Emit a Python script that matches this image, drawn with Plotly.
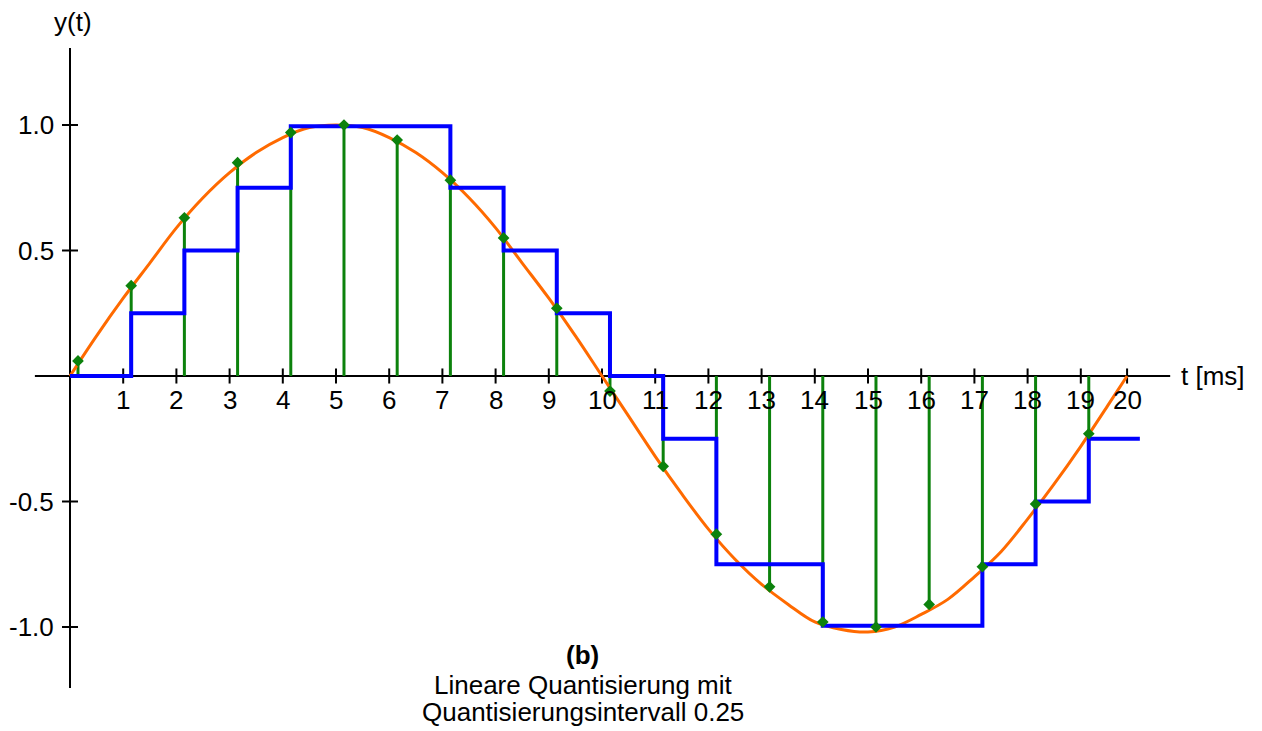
import plotly.graph_objects as go

# ---- data ----
# continuous signal (orange)
sig_t = [0, 0.5, 1, 1.5, 2, 2.5, 3, 3.5, 4, 4.5, 5, 5.5, 6, 6.5, 7, 7.5, 8, 8.5, 9, 9.5, 10,
         10.5, 11, 11.5, 12, 12.5, 13, 13.5, 14, 14.5, 15, 15.5, 16, 16.5, 17, 17.5, 18, 18.5, 19, 19.5, 19.87]
sig_y = [0.0, 0.16, 0.31, 0.45, 0.59, 0.71, 0.81, 0.89, 0.95, 0.99, 1.0, 0.99, 0.95, 0.89, 0.81, 0.71, 0.59, 0.45, 0.31, 0.16, 0.0,
         -0.16, -0.32, -0.47, -0.61, -0.73, -0.83, -0.91, -0.98, -1.01, -1.02, -1.0, -0.95, -0.89, -0.80, -0.70, -0.57, -0.43, -0.28, -0.12, 0.0]

# sample instants and sampled values (green stems / diamonds)
sample_t = [0.15, 1.15, 2.15, 3.15, 4.15, 5.15, 6.15, 7.15, 8.15, 9.15,
            10.15, 11.15, 12.15, 13.15, 14.15, 15.15, 16.15, 17.15, 18.15, 19.15]
sample_y = [0.06, 0.36, 0.63, 0.85, 0.97, 1.0, 0.94, 0.78, 0.55, 0.27,
            -0.06, -0.36, -0.63, -0.84, -0.98, -1.0, -0.91, -0.76, -0.51, -0.23]

# quantized staircase (blue), step 0.25
quant_t = [0, 1.15, 2.15, 3.15, 4.15, 5.15, 6.15, 7.15, 8.15, 9.15,
           10.15, 11.15, 12.15, 13.15, 14.15, 15.15, 16.15, 17.15, 18.15, 19.15, 20.11]
quant_y = [0, 0.25, 0.5, 0.75, 0.995, 0.995, 0.995, 0.75, 0.5, 0.25,
           0, -0.25, -0.75, -0.75, -0.995, -0.995, -0.995, -0.75, -0.5, -0.25, -0.25]

# axis ticks
x_tick_vals = [1, 2, 3, 4, 5, 6, 7, 8, 9, 10, 11, 12, 13, 14, 15, 16, 17, 18, 19, 19.87]
x_tick_text = [str(i) for i in range(1, 21)]
y_tick_vals = [1.0, 0.5, -0.5, -1.0]
y_tick_text = ["1.0", "0.5", "-0.5", "-1.0"]

FONT = "Liberation Sans, Arial, Helvetica, sans-serif"
FS = 26
GREEN = "#0c820c"
ORANGE = "#ff6a00"
BLUE = "#0000ff"

fig = go.Figure()

# stems
stem_x, stem_y = [], []
for t, v in zip(sample_t, sample_y):
    stem_x += [t, t, None]
    stem_y += [0, v, None]
fig.add_trace(go.Scatter(x=stem_x, y=stem_y, mode="lines",
                         line=dict(color=GREEN, width=3), hoverinfo="skip"))
# continuous signal
fig.add_trace(go.Scatter(x=sig_t, y=sig_y, mode="lines",
                         line=dict(color=ORANGE, width=3, shape="spline")))
# quantized signal
fig.add_trace(go.Scatter(x=quant_t, y=quant_y, mode="lines",
                         line=dict(color=BLUE, width=4, shape="hv")))
# sample markers
fig.add_trace(go.Scatter(x=sample_t, y=sample_y, mode="markers",
                         marker=dict(symbol="diamond", size=9, color=GREEN)))

shapes = []
# axes lines
shapes.append(dict(type="line", x0=-0.66, x1=20.68, y0=0, y1=0,
                   line=dict(color="black", width=2), layer="below"))
shapes.append(dict(type="line", x0=0, x1=0, y0=-1.243, y1=1.307,
                   line=dict(color="black", width=2), layer="below"))
annotations = []
for v, s in zip(x_tick_vals, x_tick_text):
    shapes.append(dict(type="line", x0=v, x1=v, y0=-0.03, y1=0.03,
                       line=dict(color="black", width=2), layer="below"))
    annotations.append(dict(x=v, y=-0.095, text=s, showarrow=False,
                            font=dict(family=FONT, size=FS, color="black"),
                            xanchor="center", yanchor="middle"))
for v, s in zip(y_tick_vals, y_tick_text):
    shapes.append(dict(type="line", x0=-0.15, x1=0.15, y0=v, y1=v,
                       line=dict(color="black", width=2), layer="below"))
    annotations.append(dict(x=-0.27, y=v, text=s, showarrow=False,
                            font=dict(family=FONT, size=FS, color="black"),
                            xanchor="right", yanchor="middle"))

annotations.append(dict(x=0.05, y=1.41, text="y(t)", showarrow=False,
                        font=dict(family=FONT, size=FS, color="black"),
                        xanchor="center", yanchor="middle"))
annotations.append(dict(x=20.85, y=0.0, text="t [ms]", showarrow=False,
                        font=dict(family=FONT, size=FS, color="black"),
                        xanchor="left", yanchor="middle"))
annotations.append(dict(x=9.64, y=-1.11, text="<b>(b)</b>", showarrow=False,
                        font=dict(family=FONT, size=FS, color="black"),
                        xanchor="center", yanchor="middle"))
annotations.append(dict(x=9.64, y=-1.233, text="Lineare Quantisierung mit", showarrow=False,
                        font=dict(family=FONT, size=FS, color="black"),
                        xanchor="center", yanchor="middle"))
annotations.append(dict(x=9.64, y=-1.34, text="Quantisierungsintervall 0.25", showarrow=False,
                        font=dict(family=FONT, size=FS, color="black"),
                        xanchor="center", yanchor="middle"))

fig.update_layout(
    width=1262, height=731,
    margin=dict(l=0, r=0, t=0, b=0),
    paper_bgcolor="white", plot_bgcolor="white",
    showlegend=False,
    xaxis=dict(range=[-70 / 53.2, (1262 - 70) / 53.2], visible=False, fixedrange=True),
    yaxis=dict(range=[(376 - 731) / 251, 376 / 251], visible=False, fixedrange=True),
    shapes=shapes, annotations=annotations,
)

fig.write_html("out.html")
